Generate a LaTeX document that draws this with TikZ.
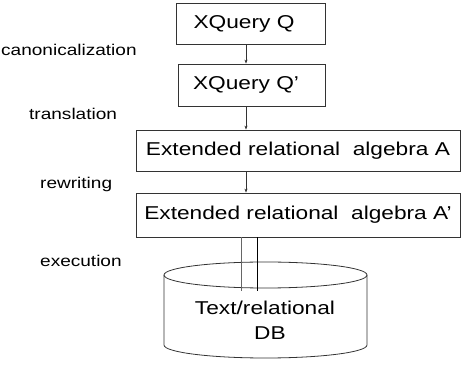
\documentclass[tikz,border=0pt]{standalone}
\usepackage{fontspec}
\setmainfont[FakeStretch=1.22]{Liberation Sans}
\usetikzlibrary{arrows.meta}
\begin{document}
\begin{tikzpicture}[x=1pt,y=-1pt,
  boxa/.style={draw=black!80,line width=0.8pt,minimum height=41pt,inner sep=0pt,font=\fontsize{18.6}{22}\selectfont},
  lab/.style={font=\fontsize{15.6}{19}\selectfont,anchor=base west,inner sep=0pt},
  arr/.style={draw=black!80,line width=0.8pt,-{Stealth[length=4pt,width=3pt]}},
  ln/.style={draw=black!80,line width=0.8pt}]
\useasboundingbox (0,0) rectangle (461,371);
\node[boxa,minimum width=149pt] (q) at (251,24) {\hspace*{-14pt}XQuery Q};
\node[boxa,minimum width=147pt,minimum height=42pt] (q2) at (251.5,85) {\hspace*{-11pt}XQuery Q\char"27};
\node[boxa,minimum width=324pt] (a) at (298,150.5) {Extended relational\ \ algebra A};
\node[boxa,minimum width=324pt,minimum height=44pt] (a2) at (298,215) {Extended relational\ \ algebra A\char"27};
\draw[arr] (q.south -| 246,0) -- (q2.north -| 246,0);
\draw[arr] (q2.south -| 246,0) -- (a.north -| 246,0);
\draw[arr] (a.south -| 246,0) -- (a2.north -| 246,0);
% labels
\node[lab] (l1) at (1,56) {canonicalization};
\node[lab] (l2) at (29,120) {translation};
\node[lab] (l3) at (40,189) {rewriting};
\node[lab] (l4) at (40,267) {execution};
% cylinder
\coordinate (c) at (265.5,275);
\draw[ln] (164,275) -- (164,345) arc[start angle=180,end angle=0,x radius=101.5,y radius=13] -- (367,275);
\draw[ln] (c) ellipse[x radius=101.5,y radius=13];
\node[font=\fontsize{18.6}{22}\selectfont,anchor=base,inner sep=0pt] (db1) at (265,315) {Text/relational};
\node[font=\fontsize{18.6}{22}\selectfont,anchor=base,inner sep=0pt] (db2) at (270,340) {DB};
\coordinate (e1) at (241,291);
\coordinate (e2) at (257,291);
\draw[black!60,line width=0.8pt] (a2.south -| e1) -- (e1);
\draw[black,line width=0.8pt] (a2.south -| e2) -- (e2);
\end{tikzpicture}
\end{document}
